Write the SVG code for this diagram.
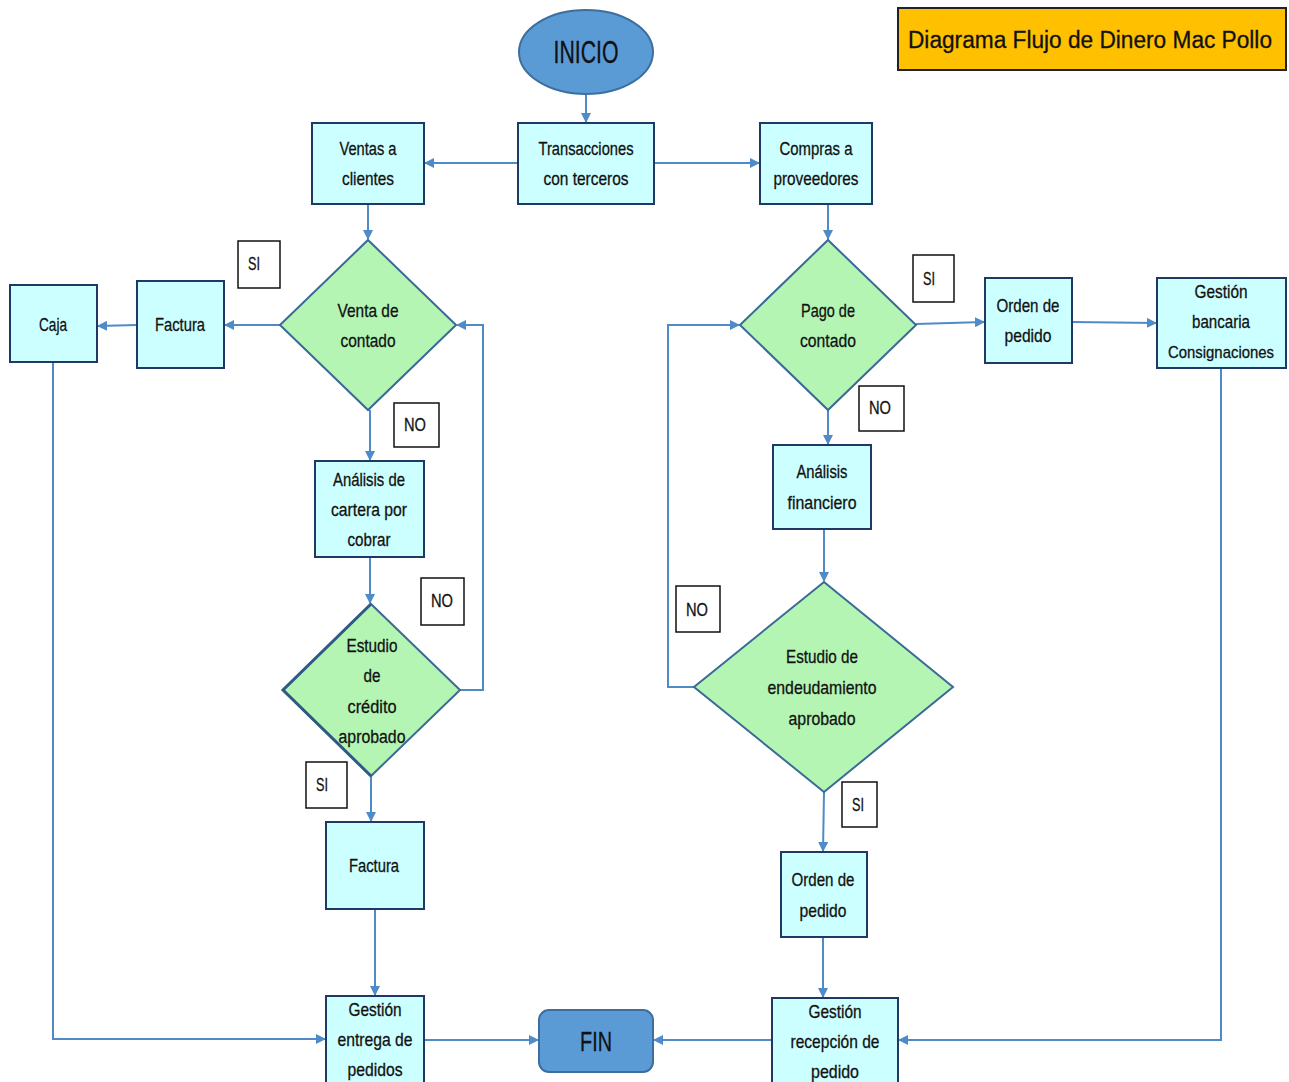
<svg xmlns="http://www.w3.org/2000/svg" width="1289" height="1082" viewBox="0 0 1289 1082">
<style>
.box{fill:#ccffff;stroke:#203864;stroke-width:2}
.dia{fill:#b4f5b4;stroke:#3a6a96;stroke-width:2}
.term{fill:#5b9bd5;stroke:#3d6e9e;stroke-width:2}
.lbl{fill:#ffffff;stroke:#111111;stroke-width:1.5}
.t{font-family:"Liberation Sans",Arial,sans-serif;font-size:19px;fill:#111111;stroke:#111111;stroke-width:0.3;text-anchor:middle}
.big{font-size:31px}
.con{fill:none;stroke:#4f8ac9;stroke-width:2}
</style>
<defs>
<marker id="ah" markerUnits="userSpaceOnUse" markerWidth="10" markerHeight="10" refX="9" refY="5" orient="auto">
<path d="M0,0 L10,5 L0,10 z" fill="#4f8ac9"/>
</marker>
</defs>
<rect width="1289" height="1082" fill="#ffffff"/>

<g id="connectors">
<path class="con" d="M586,94 L586,122" marker-end="url(#ah)"/>
<path class="con" d="M518,163 L425,163" marker-end="url(#ah)"/>
<path class="con" d="M654,163 L759,163" marker-end="url(#ah)"/>
<path class="con" d="M368,204 L368,239" marker-end="url(#ah)"/>
<path class="con" d="M280,325 L225,325" marker-end="url(#ah)"/>
<path class="con" d="M137,325 L98,326" marker-end="url(#ah)"/>
<path class="con" d="M53,362 L53,1039 L325,1039" marker-end="url(#ah)"/>
<path class="con" d="M370,410 L370,460" marker-end="url(#ah)"/>
<path class="con" d="M370,557 L370,603" marker-end="url(#ah)"/>
<path class="con" d="M460,690 L483,690 L483,325 L457,325" marker-end="url(#ah)"/>
<path class="con" d="M371,776 L371,821" marker-end="url(#ah)"/>
<path class="con" d="M375,909 L375,995" marker-end="url(#ah)"/>
<path class="con" d="M424,1040 L538,1040" marker-end="url(#ah)"/>
<path class="con" d="M772,1040 L654,1040" marker-end="url(#ah)"/>
<path class="con" d="M1221,368 L1221,1040 L899,1040" marker-end="url(#ah)"/>
<path class="con" d="M828,204 L828,239" marker-end="url(#ah)"/>
<path class="con" d="M916,324 L984,322" marker-end="url(#ah)"/>
<path class="con" d="M1072,322 L1156,323" marker-end="url(#ah)"/>
<path class="con" d="M828,410 L828,444" marker-end="url(#ah)"/>
<path class="con" d="M824,529 L824,581" marker-end="url(#ah)"/>
<path class="con" d="M694,687 L668,687 L668,325 L739,325" marker-end="url(#ah)"/>
<path class="con" d="M824,792 L823,851" marker-end="url(#ah)"/>
<path class="con" d="M823,937 L823,997" marker-end="url(#ah)"/>
</g>

<g id="title">
<rect x="898" y="8" width="388" height="62" fill="#ffc000" stroke="#222222" stroke-width="2"/>
<text class="t" x="1090" y="48" style="font-size:23px" textLength="364" lengthAdjust="spacingAndGlyphs">Diagrama Flujo de Dinero Mac Pollo</text>
</g>

<g id="inicio">
<ellipse class="term" cx="586" cy="52" rx="67" ry="42"/>
<text class="t big" x="586" y="63" textLength="65" lengthAdjust="spacingAndGlyphs">INICIO</text>
</g>

<g id="transacciones">
<rect class="box" x="518" y="123" width="136" height="81"/>
<text class="t" x="586" y="155" textLength="95" lengthAdjust="spacingAndGlyphs">Transacciones</text>
<text class="t" x="586" y="185" textLength="85" lengthAdjust="spacingAndGlyphs">con terceros</text>
</g>

<g id="ventas">
<rect class="box" x="312" y="123" width="112" height="81"/>
<text class="t" x="368" y="155" textLength="57" lengthAdjust="spacingAndGlyphs">Ventas a</text>
<text class="t" x="368" y="185" textLength="52" lengthAdjust="spacingAndGlyphs">clientes</text>
</g>

<g id="compras">
<rect class="box" x="760" y="123" width="112" height="81"/>
<text class="t" x="816" y="155" textLength="73" lengthAdjust="spacingAndGlyphs">Compras a</text>
<text class="t" x="816" y="185" textLength="85" lengthAdjust="spacingAndGlyphs">proveedores</text>
</g>

<g id="venta-contado">
<polygon class="dia" points="368,240 456,325 368,410 280,325"/>
<text class="t" x="368" y="317" textLength="61" lengthAdjust="spacingAndGlyphs">Venta de</text>
<text class="t" x="368" y="347" textLength="55" lengthAdjust="spacingAndGlyphs">contado</text>
</g>

<g id="si-1">
<rect class="lbl" x="238" y="241" width="42" height="47"/>
<text class="t" x="254" y="270" textLength="12" lengthAdjust="spacingAndGlyphs">SI</text>
</g>

<g id="factura-1">
<rect class="box" x="137" y="281" width="87" height="87"/>
<text class="t" x="180" y="331" textLength="50" lengthAdjust="spacingAndGlyphs">Factura</text>
</g>

<g id="caja">
<rect class="box" x="10" y="285" width="87" height="77"/>
<text class="t" x="53" y="331" textLength="28" lengthAdjust="spacingAndGlyphs">Caja</text>
</g>

<g id="no-1">
<rect class="lbl" x="394" y="403" width="45" height="44"/>
<text class="t" x="415" y="431" textLength="22" lengthAdjust="spacingAndGlyphs">NO</text>
</g>

<g id="analisis-cartera">
<rect class="box" x="315" y="461" width="109" height="96"/>
<text class="t" x="369" y="486" textLength="72" lengthAdjust="spacingAndGlyphs">Análisis de</text>
<text class="t" x="369" y="516" textLength="76" lengthAdjust="spacingAndGlyphs">cartera por</text>
<text class="t" x="369" y="546" textLength="43" lengthAdjust="spacingAndGlyphs">cobrar</text>
</g>

<g id="estudio-credito">
<polygon class="dia" points="371,604 460,690 371,776 283,690"/>
<path d="M371,604 L283,690 L371,776" fill="none" stroke="#2f5a86" stroke-width="3"/>
<text class="t" x="372" y="652" textLength="51" lengthAdjust="spacingAndGlyphs">Estudio</text>
<text class="t" x="372" y="682" textLength="17" lengthAdjust="spacingAndGlyphs">de</text>
<text class="t" x="372" y="713" textLength="49" lengthAdjust="spacingAndGlyphs">crédito</text>
<text class="t" x="372" y="743" textLength="67" lengthAdjust="spacingAndGlyphs">aprobado</text>
</g>

<g id="no-2">
<rect class="lbl" x="421" y="578" width="43" height="47"/>
<text class="t" x="442" y="607" textLength="22" lengthAdjust="spacingAndGlyphs">NO</text>
</g>

<g id="si-2">
<rect class="lbl" x="306" y="762" width="41" height="46"/>
<text class="t" x="322" y="791" textLength="12" lengthAdjust="spacingAndGlyphs">SI</text>
</g>

<g id="factura-2">
<rect class="box" x="326" y="822" width="98" height="87"/>
<text class="t" x="374" y="872" textLength="50" lengthAdjust="spacingAndGlyphs">Factura</text>
</g>

<g id="gestion-entrega">
<rect class="box" x="326" y="996" width="98" height="90"/>
<text class="t" x="375" y="1016" textLength="53" lengthAdjust="spacingAndGlyphs">Gestión</text>
<text class="t" x="375" y="1046" textLength="75" lengthAdjust="spacingAndGlyphs">entrega de</text>
<text class="t" x="375" y="1076" textLength="55" lengthAdjust="spacingAndGlyphs">pedidos</text>
</g>

<g id="fin">
<rect class="term" x="539" y="1010" width="114" height="62" rx="10"/>
<text class="t" x="596" y="1051" style="font-size:28px" textLength="32" lengthAdjust="spacingAndGlyphs">FIN</text>
</g>

<g id="gestion-recepcion">
<rect class="box" x="772" y="998" width="126" height="88"/>
<text class="t" x="835" y="1018" textLength="53" lengthAdjust="spacingAndGlyphs">Gestión</text>
<text class="t" x="835" y="1048" textLength="89" lengthAdjust="spacingAndGlyphs">recepción de</text>
<text class="t" x="835" y="1078" textLength="48" lengthAdjust="spacingAndGlyphs">pedido</text>
</g>

<g id="pago-contado">
<polygon class="dia" points="828,240 916,325 828,410 740,325"/>
<text class="t" x="828" y="317" textLength="54" lengthAdjust="spacingAndGlyphs">Pago de</text>
<text class="t" x="828" y="347" textLength="56" lengthAdjust="spacingAndGlyphs">contado</text>
</g>

<g id="si-3">
<rect class="lbl" x="913" y="255" width="41" height="47"/>
<text class="t" x="929" y="285" textLength="12" lengthAdjust="spacingAndGlyphs">SI</text>
</g>

<g id="orden-pedido-1">
<rect class="box" x="985" y="278" width="87" height="85"/>
<text class="t" x="1028" y="312" textLength="63" lengthAdjust="spacingAndGlyphs">Orden de</text>
<text class="t" x="1028" y="342" textLength="47" lengthAdjust="spacingAndGlyphs">pedido</text>
</g>

<g id="gestion-bancaria">
<rect class="box" x="1157" y="278" width="129" height="90"/>
<text class="t" x="1221" y="298" textLength="53" lengthAdjust="spacingAndGlyphs">Gestión</text>
<text class="t" x="1221" y="328" textLength="58" lengthAdjust="spacingAndGlyphs">bancaria</text>
<text class="t" x="1221" y="358" style="font-size:17px" textLength="106" lengthAdjust="spacingAndGlyphs">Consignaciones</text>
</g>

<g id="no-3">
<rect class="lbl" x="859" y="386" width="45" height="45"/>
<text class="t" x="880" y="414" textLength="22" lengthAdjust="spacingAndGlyphs">NO</text>
</g>

<g id="analisis-financiero">
<rect class="box" x="773" y="445" width="98" height="84"/>
<text class="t" x="822" y="478" textLength="51" lengthAdjust="spacingAndGlyphs">Análisis</text>
<text class="t" x="822" y="509" textLength="69" lengthAdjust="spacingAndGlyphs">financiero</text>
</g>

<g id="estudio-endeudamiento">
<polygon class="dia" points="824,582 953,687 824,792 694,687"/>
<text class="t" x="822" y="663" textLength="72" lengthAdjust="spacingAndGlyphs">Estudio de</text>
<text class="t" x="822" y="694" textLength="109" lengthAdjust="spacingAndGlyphs">endeudamiento</text>
<text class="t" x="822" y="725" textLength="67" lengthAdjust="spacingAndGlyphs">aprobado</text>
</g>

<g id="no-4">
<rect class="lbl" x="676" y="586" width="44" height="46"/>
<text class="t" x="697" y="616" textLength="22" lengthAdjust="spacingAndGlyphs">NO</text>
</g>

<g id="si-4">
<rect class="lbl" x="842" y="782" width="35" height="45"/>
<text class="t" x="858" y="811" textLength="12" lengthAdjust="spacingAndGlyphs">SI</text>
</g>

<g id="orden-pedido-2">
<rect class="box" x="781" y="852" width="86" height="85"/>
<text class="t" x="823" y="886" textLength="63" lengthAdjust="spacingAndGlyphs">Orden de</text>
<text class="t" x="823" y="917" textLength="47" lengthAdjust="spacingAndGlyphs">pedido</text>
</g>
</svg>
